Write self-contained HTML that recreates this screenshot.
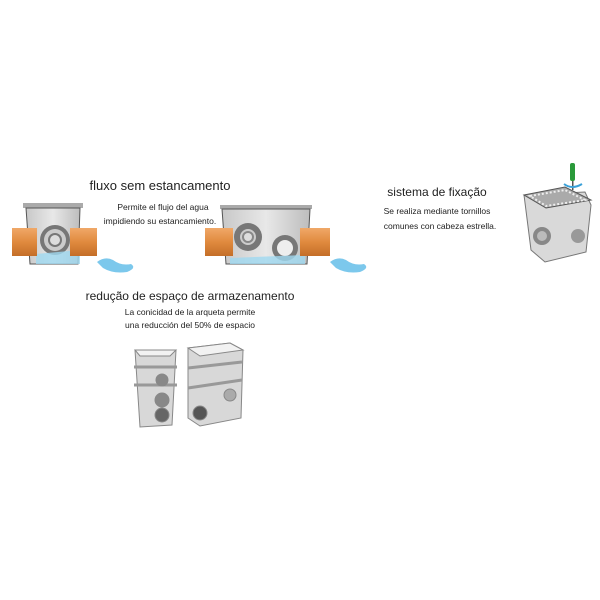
<!DOCTYPE html>
<html><head><style>
html,body{margin:0;padding:0;background:#fff;}
svg{display:block;}
text{font-family:"Liberation Sans",sans-serif;fill:#222;}
</style></head><body>
<svg width="600" height="600" viewBox="0 0 600 600">
<defs>
<linearGradient id="pipe" x1="0" y1="0" x2="0" y2="1"><stop offset="0" stop-color="#f0a868"/><stop offset="0.5" stop-color="#e08a3e"/><stop offset="1" stop-color="#c46e28"/></linearGradient>
<linearGradient id="box" x1="0" y1="0" x2="1" y2="0"><stop offset="0" stop-color="#c8c8c8"/><stop offset="0.5" stop-color="#e8e8e8"/><stop offset="1" stop-color="#bdbdbd"/></linearGradient>
</defs>
<text x="160" y="190" font-size="13" text-anchor="middle" font-family="DejaVu Sans">fluxo sem estancamento</text>
<text x="163" y="210" font-size="8.5" text-anchor="middle">Permite el flujo del agua</text>
<text x="160" y="224" font-size="8.5" text-anchor="middle">impidiendo su estancamiento.</text>
<text x="190" y="300" font-size="12" text-anchor="middle" font-family="DejaVu Sans">redução de espaço de armazenamento</text>
<text x="190" y="315" font-size="8.5" text-anchor="middle">La conicidad de la arqueta permite</text>
<text x="190" y="328" font-size="8.5" text-anchor="middle">una reducción del 50% de espacio</text>
<text x="437" y="196" font-size="12" text-anchor="middle" font-family="DejaVu Sans">sistema de fixação</text>
<text x="437" y="214" font-size="8.5" text-anchor="middle">Se realiza mediante tornillos</text>
<text x="440" y="229" font-size="8.5" text-anchor="middle">comunes con cabeza estrella.</text>

<rect x="23" y="203" width="60" height="5" fill="#aaa"/>
<path d="M26 208 L80 208 L78 264 L30 264 Z" fill="url(#box)" stroke="#555" stroke-width="1"/>
<circle cx="55" cy="240" r="15" fill="#777"/><circle cx="55" cy="240" r="11" fill="#ccc"/><circle cx="55" cy="240" r="7" fill="#777"/><circle cx="55" cy="240" r="5" fill="#ddd"/>
<path d="M36 254 L80 250 L80 264 L36 264Z" fill="#9fd8f0" opacity="0.8"/>
<rect x="12" y="228" width="25" height="28" fill="url(#pipe)"/>
<rect x="70" y="228" width="27" height="28" fill="url(#pipe)"/>
<path d="M97 262 q8 -6 16 -2 q8 6 18 4 q6 4 -4 8 q-14 2 -24 -4 z" fill="#7cc8ec"/>
<rect x="220" y="205" width="92" height="4" fill="#aaa"/>
<path d="M222 209 L310 209 L307 264 L226 264 Z" fill="url(#box)" stroke="#555" stroke-width="1"/>
<circle cx="248" cy="237" r="14" fill="#777"/><circle cx="248" cy="237" r="8" fill="#ccc"/><circle cx="248" cy="237" r="6" fill="#888"/><circle cx="248" cy="237" r="4" fill="#ddd"/>
<circle cx="285" cy="248" r="13" fill="#777"/><circle cx="285" cy="248" r="8" fill="#eee"/>
<path d="M230 258 L305 255 L305 264 L230 264Z" fill="#9fd8f0" opacity="0.8"/>
<rect x="205" y="228" width="28" height="28" fill="url(#pipe)"/>
<rect x="300" y="228" width="30" height="28" fill="url(#pipe)"/>
<path d="M330 262 q8 -6 16 -2 q8 6 18 4 q6 4 -4 8 q-14 2 -24 -4 z" fill="#7cc8ec"/>

<g stroke="#888" stroke-width="1" fill="#d8d8d8">
<path d="M135 350 L176 350 L172 425 L140 427 Z"/>
<path d="M135 350 L176 350 L170 356 L140 356 Z" fill="#f2f2f2"/>
<path d="M134 367 L177 367 M134 385 L177 385" stroke="#999" stroke-width="3" fill="none"/>
<circle cx="162" cy="380" r="6" fill="#888"/><circle cx="162" cy="400" r="7" fill="#888"/><circle cx="162" cy="415" r="7" fill="#666"/>
<path d="M188 348 L230 343 L243 350 L241 418 L200 426 L188 418 Z"/>
<path d="M188 348 L230 343 L243 350 L200 356 Z" fill="#f2f2f2"/>
<path d="M188 368 L242 362 M188 388 L242 380" stroke="#999" stroke-width="3" fill="none"/>
<circle cx="200" cy="413" r="7" fill="#555"/><circle cx="230" cy="395" r="6" fill="#aaa"/>
</g>

<path d="M524 195 L585 192 L591 205 L586 252 L545 262 L531 250 Z" fill="#d9d9d9" stroke="#777"/>
<path d="M524 195 L565 187 L591 200 L546 208 Z" fill="#aaa" stroke="#555"/>
<path d="M530 196 L565 190 L585 200 L546 206 Z" fill="none" stroke="#eee" stroke-width="2" stroke-dasharray="2 2"/>
<circle cx="542" cy="236" r="9" fill="#888"/><circle cx="542" cy="236" r="5" fill="#bbb"/>
<circle cx="578" cy="236" r="7" fill="#999"/>
<rect x="570" y="163" width="5" height="18" rx="2" fill="#2a9a3a"/>
<rect x="572" y="181" width="1.5" height="9" fill="#555"/>
<path d="M564 184 q8 6 18 0" stroke="#3aa0d8" stroke-width="2" fill="none"/>
</svg>
</body></html>
